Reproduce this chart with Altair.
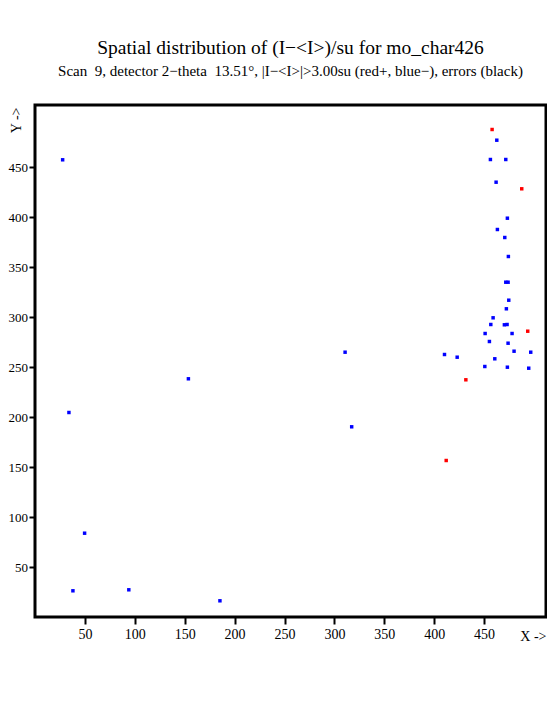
import altair as alt
import pandas as pd

# negative deviations (blue)
blue_x = [462.7, 456.3, 471.7, 462.0, 473.3, 463.3, 470.7, 474.3, 471.7, 474.0,
          474.7, 472.3, 459.0, 456.7, 470.3, 473.0, 451.0, 478.0, 455.3, 474.0,
          480.0, 496.7, 410.3, 423.0, 460.7, 450.7, 473.3, 494.7,
          27.7, 49.7, 38.0, 94.0, 185.3, 310.7, 317.3, 153.7, 34.0]
blue_y = [476.8, 457.5, 457.5, 434.8, 398.8, 387.5, 379.5, 360.5, 334.8, 334.8,
          316.8, 308.2, 299.2, 292.5, 292.2, 292.5, 283.5, 283.5, 275.5, 273.8,
          265.8, 264.8, 262.5, 259.8, 258.2, 250.5, 249.8, 248.8,
          457.2, 83.8, 26.2, 27.2, 16.2, 264.8, 190.2, 238.2, 204.5]
# positive deviations (red)
red_x = [458.0, 487.7, 493.7, 431.7, 412.0]
red_y = [487.5, 428.2, 285.8, 237.2, 156.5]

tick_values = [50, 100, 150, 200, 250, 300, 350, 400, 450]

df = pd.DataFrame({
    "x": blue_x + red_x,
    "y": blue_y + red_y,
    "sign": ["-"] * len(blue_x) + ["+"] * len(red_x),
})

FONT = "Liberation Serif"

chart = alt.Chart(df).mark_square(size=12, opacity=1).encode(
    x=alt.X("x:Q",
            scale=alt.Scale(domain=[0, 512], nice=False, zero=False),
            axis=alt.Axis(values=tick_values, title="X ->", grid=False, domain=False,
                          tickColor="black", tickWidth=2, tickSize=7, labelPadding=3,
                          labelFont=FONT, labelFontSize=14, labelColor="black",
                          titleFont=FONT, titleFontSize=14, titleFontWeight="normal",
                          titleColor="black", titleX=511, titleY=19, titleAlign="right",
                          titleBaseline="middle", labelFlush=False)),
    y=alt.Y("y:Q",
            scale=alt.Scale(domain=[0, 512], nice=False, zero=False),
            axis=alt.Axis(values=tick_values, title="Y ->", grid=False, domain=False,
                          tickColor="black", tickWidth=2, tickSize=6, labelPadding=1.5,
                          labelFont=FONT, labelFontSize=13, labelColor="black",
                          titleFont=FONT, titleFontSize=14, titleFontWeight="normal",
                          titleColor="black", titleX=-19, titleY=2, titleAlign="right",
                          titleBaseline="middle", titleAngle=-90, labelFlush=False)),
    color=alt.Color("sign:N",
                    scale=alt.Scale(domain=["+", "-"], range=["#ff0000", "#0000ff"]),
                    legend=None),
).properties(
    width=511,
    height=512,
    background="white",
    title=alt.TitleParams(
        text="Spatial distribution of (I\u2212<I>)/su for mo_char426",
        subtitle="Scan\u00a0 9, detector 2\u2212theta\u00a0 13.51\u00b0, |I\u2212<I>|>3.00su (red+, blue\u2212), errors (black)",
        font=FONT, fontSize=19.5, fontWeight="normal", color="black",
        subtitleFont=FONT, subtitleFontSize=15, subtitleColor="black",
        subtitlePadding=6, anchor="middle", offset=25,
    ),
    autosize=alt.AutoSizeParams(type="none"),
    padding={"left": 27, "top": 97, "right": 1, "bottom": 90},
).configure_view(
    stroke="black", strokeWidth=3
)

chart.save("out.html", embed_options={"renderer": "svg", "actions": False})
